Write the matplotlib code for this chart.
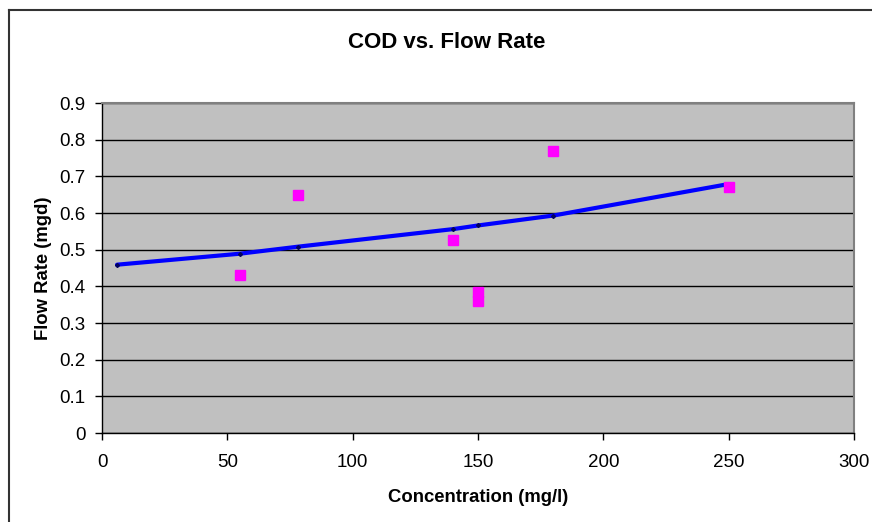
import matplotlib
matplotlib.use("Agg")
import matplotlib.pyplot as plt
from matplotlib.lines import Line2D

plt.rcParams['font.family'] = ['Liberation Sans', 'DejaVu Sans']

# Observed data
conc = [55, 78, 140, 150, 150, 180, 250]
flow = [0.43, 0.65, 0.525, 0.385, 0.36, 0.77, 0.67]

# Trend series
trend_x = [6, 55, 78, 140, 150, 180, 250]
trend_y = [0.459, 0.489, 0.508, 0.556, 0.566, 0.593, 0.679]

xticks = [0, 50, 100, 150, 200, 250, 300]
yticks = [0, 0.1, 0.2, 0.3, 0.4, 0.5, 0.6, 0.7, 0.8, 0.9]

fig = plt.figure(figsize=(8.72, 5.22), dpi=100)
fig.patch.set_facecolor('white')
ax = fig.add_axes([102/872, 89/522, 752/872, 330/522])
ax.set_facecolor('#C0C0C0')

ax.set_axisbelow(True)
ax.yaxis.grid(True, color='black', linewidth=1.0)
ax.xaxis.grid(False)

ax.plot(trend_x, trend_y, color='#0000FF', linewidth=3.0, marker='D',
        markersize=2, markerfacecolor='#000060', markeredgecolor='#000060',
        zorder=3, solid_capstyle='round')
ax.plot(conc, flow, linestyle='none', marker='s', markersize=6.5,
        markerfacecolor='#FF00FF', markeredgecolor='#FF00FF', zorder=4)

ax.set_xlim(0, 300)
ax.set_ylim(0, 0.9)
ax.set_xticks(xticks)
ax.set_yticks(yticks)
ax.set_xticklabels([str(v) for v in xticks])
ax.set_yticklabels([('%g' % v) for v in yticks])
ax.tick_params(axis='both', direction='out', length=5, width=1, labelsize=13.5,
               colors='black')
ax.tick_params(axis='x', pad=10)
ax.tick_params(axis='y', pad=7)

for s in ['left', 'bottom']:
    ax.spines[s].set_color('black')
    ax.spines[s].set_linewidth(1.0)
for s in ['top', 'right']:
    ax.spines[s].set_color('#808080')
    ax.spines[s].set_linewidth(1.5)

ax.set_xlabel('Concentration (mg/l)', fontsize=13.3, fontweight='bold', labelpad=13)
ax.set_ylabel('Flow Rate (mgd)', fontsize=13.3, fontweight='bold', labelpad=5)

fig.text(447/872, 1 - 43/522, 'COD vs. Flow Rate', fontsize=16, fontweight='bold',
         ha='center', va='center')

# chart area border (top and left visible)
fig.add_artist(Line2D([9/872, 1.0], [1 - 10/522, 1 - 10/522], color='#333333',
                      linewidth=1.5, transform=fig.transFigure))
fig.add_artist(Line2D([9/872, 9/872], [0, 1 - 10/522], color='#333333',
                      linewidth=1.5, transform=fig.transFigure))

fig.savefig('out.png', dpi=100)
